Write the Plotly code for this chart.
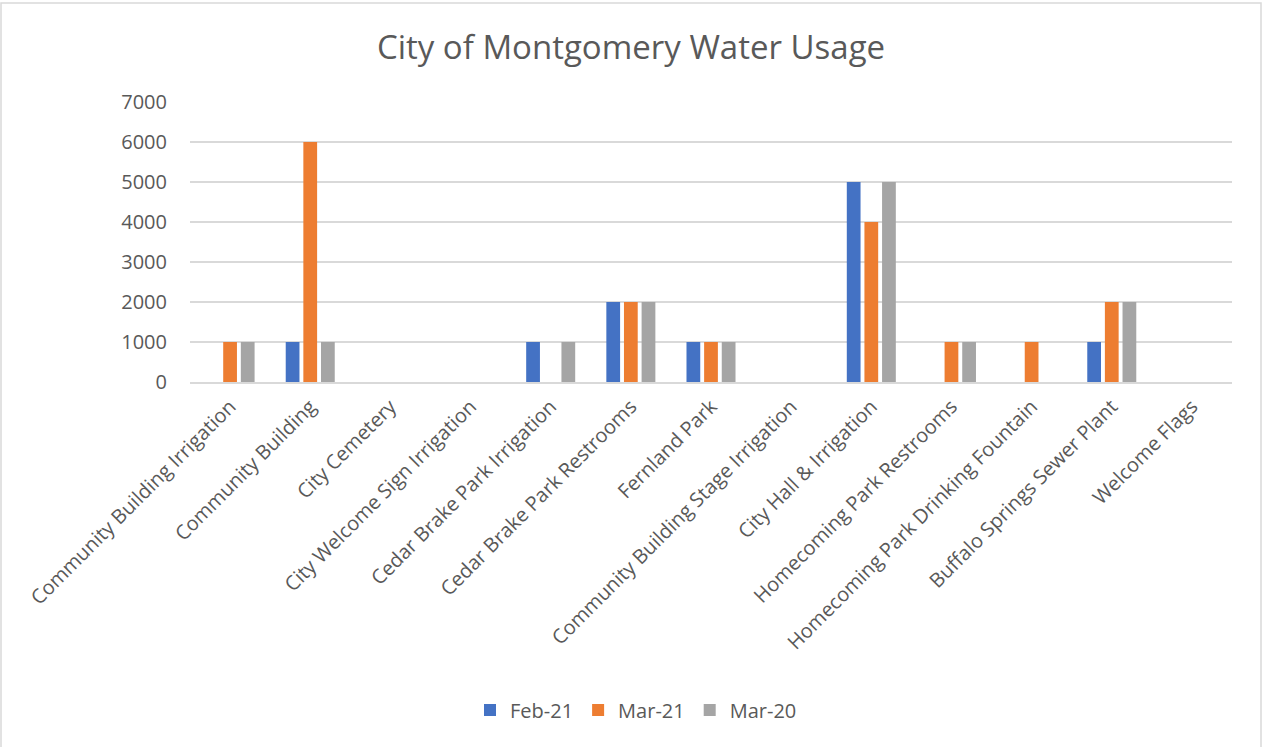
import plotly.graph_objects as go

categories = [
    "Community Building Irrigation",
    "Community Building",
    "City Cemetery",
    "City Welcome Sign Irrigation",
    "Cedar Brake Park Irrigation",
    "Cedar Brake Park Restrooms",
    "Fernland Park",
    "Community Building Stage Irrigation",
    "City Hall & Irrigation",
    "Homecoming Park Restrooms",
    "Homecoming Park Drinking Fountain",
    "Buffalo Springs Sewer Plant",
    "Welcome Flags",
]
feb21 = [0, 1000, 0, 0, 1000, 2000, 1000, 0, 5000, 0, 0, 1000, 0]
mar21 = [1000, 6000, 0, 0, 0, 2000, 1000, 0, 4000, 1000, 1000, 2000, 0]
mar20 = [1000, 1000, 0, 0, 1000, 2000, 1000, 0, 5000, 1000, 0, 2000, 0]
series_names = ["Feb-21", "Mar-21", "Mar-20"]
colors = ["#4472C4", "#ED7D31", "#A5A5A5"]
y_ticks = [0, 1000, 2000, 3000, 4000, 5000, 6000, 7000]

W, H = 1262, 747
ML, MR, MT, MB = 190, 30, 102, 365
PW, PH = W - ML - MR, H - MT - MB

def px_x(p):
    return (p - ML) / PW

def px_y(p):
    return (H - MB - p) / PH

fig = go.Figure()
for name, vals, col in zip(series_names, [feb21, mar21, mar20], colors):
    fig.add_trace(go.Bar(name=name, x=categories, y=vals, marker_color=col,
                         marker_line_width=0))

font_color = "#595959"
fig.update_layout(
    width=W, height=H,
    margin=dict(l=ML, r=MR, t=MT, b=MB),
    paper_bgcolor="white", plot_bgcolor="white",
    font=dict(family="Open Sans", color=font_color, size=20),
    title=dict(text="City of Montgomery Water Usage", x=0.5, xanchor="center",
               y=1 - 47 / H, yanchor="middle",
               font=dict(family="Open Sans", size=33, color=font_color)),
    barmode="group", bargap=0.34, bargroupgap=0.22,
    legend=dict(orientation="h", x=px_x(636), xanchor="center", y=px_y(710), yanchor="middle",
                font=dict(size=20, color=font_color), traceorder="normal"),
    showlegend=True,
    xaxis=dict(tickangle=-45, showgrid=False, showline=True, linecolor="#D9D9D9",
               linewidth=2, ticks="outside", ticklen=3, tickcolor="rgba(0,0,0,0)",
               tickfont=dict(size=20, color=font_color)),
    yaxis=dict(range=[0, 7000], tickvals=y_ticks, showgrid=True, gridcolor="#D9D9D9",
               gridwidth=2, zeroline=False, showline=False,
               ticklabelstandoff=22, tickfont=dict(size=20, color=font_color)),
    shapes=[dict(type="rect", xref="paper", yref="paper",
                 x0=px_x(1), x1=px_x(1261), y0=px_y(750), y1=px_y(3),
                 line=dict(color="#D9D9D9", width=1.5), fillcolor="rgba(0,0,0,0)",
                 layer="below")],
)

fig.write_html("out.html", config={"displayModeBar": False},
               post_script="document.body.style.margin='0';")
